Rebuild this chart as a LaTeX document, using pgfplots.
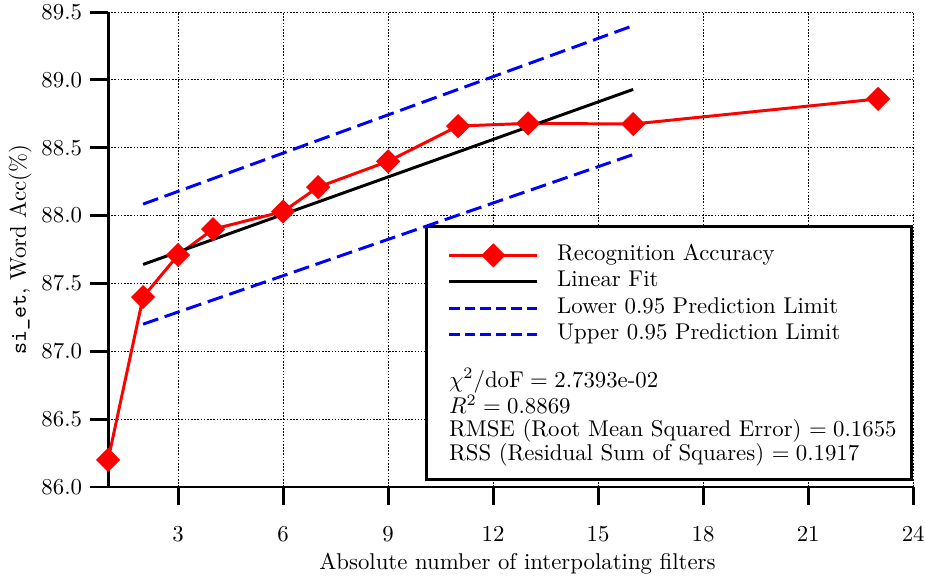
\documentclass[border=0pt]{standalone}
\usepackage{pgfplots}
\pgfplotsset{compat=1.18}
\begin{document}
\begin{tikzpicture}
\begin{axis}[
  scale only axis,
  width=353.1pt, height=208.3pt,
  xmin=1, xmax=24, ymin=86, ymax=89.5,
  axis x line*=bottom, axis y line*=left,
  axis line style={line width=1.3pt, -},
  xtick={3,6,9,12,15,18,21,24},
  ytick={86,86.5,87,87.5,88,88.5,89,89.5},
  yticklabel style={/pgf/number format/fixed, /pgf/number format/fixed zerofill, /pgf/number format/precision=1},
  xticklabel style={yshift=-6pt},
  tick align=outside,
  major tick length=7.9pt,
  tick style={line width=1.3pt, black},
  grid=major,
  grid style={line width=0.5pt, black, dash pattern=on 0.7pt off 0.7pt},
  xlabel={Absolute number of interpolating filters},
  ylabel={\texttt{si\_et}, Word Acc(\%)},
  every axis y label/.style={at={(axis description cs:0,0.5)}, xshift=-38.6pt, anchor=center, rotate=90},
  every axis x label/.style={at={(axis description cs:0.5,0)}, xshift=3pt, yshift=-33.8pt, anchor=center},
  clip=false,
  legend image code/.code={\draw[mark repeat=2,mark phase=2,#1] plot coordinates {(0cm,0cm) (0.68cm,0cm) (1.36cm,0cm)};},
  legend style={draw=none, fill=none, inner sep=0pt, column sep=8.0pt, row sep=2.1pt,
    nodes={inner sep=0pt, text height=7pt, text depth=2.5pt},
    at={(axis cs:10.69,87.79)}, anchor=north west, cells={anchor=west}},
  legend cell align=left,
]
\draw[line width=1.3pt, fill=white] (axis cs:10.10,86.052) rectangle (axis cs:23.94,87.923);
\addplot[red, line width=1.3pt, mark=square*, mark size=3.1pt, mark options={rotate=45, solid}]
  coordinates {(1,86.20) (2,87.40) (3,87.71) (4,87.90) (6,88.03) (7,88.21) (9,88.40) (11,88.66) (13,88.68) (16,88.675) (23,88.86)};
\addlegendentry{Recognition Accuracy}
\addplot[black, line width=1.3pt] coordinates {(2,87.64) (16,88.93)};
\addlegendentry{Linear Fit}
\addplot[blue, line width=1.3pt, dash pattern=on 7pt off 3pt, forget plot] coordinates {(2,87.20) (16,88.45)};
\addplot[blue, line width=1.3pt, dash pattern=on 7pt off 3pt, forget plot] coordinates {(2,88.085) (16,89.40)};
\addlegendimage{blue, line width=1.3pt, dash pattern=on 4.55pt off 2.27pt}
\addlegendentry{Lower 0.95 Prediction Limit}
\addlegendimage{blue, line width=1.3pt, dash pattern=on 4.55pt off 2.27pt}
\addlegendentry{Upper 0.95 Prediction Limit}
\node[anchor=north west, inner sep=0pt, align=left, font=\fontsize{10}{10.2}\selectfont] at (axis cs:10.73,86.877)
  {$\chi^2/\mathrm{doF}={}$2.7393e-02\\ $R^2=0.8869$\\ RMSE (Root Mean Squared Error) $=0.1655$\\ RSS (Residual Sum of Squares) $=0.1917$};
\end{axis}
\pgfresetboundingbox
\useasboundingbox (-47.4pt,-39.9pt) rectangle (358.3pt,213.6pt);
\end{tikzpicture}
\end{document}
